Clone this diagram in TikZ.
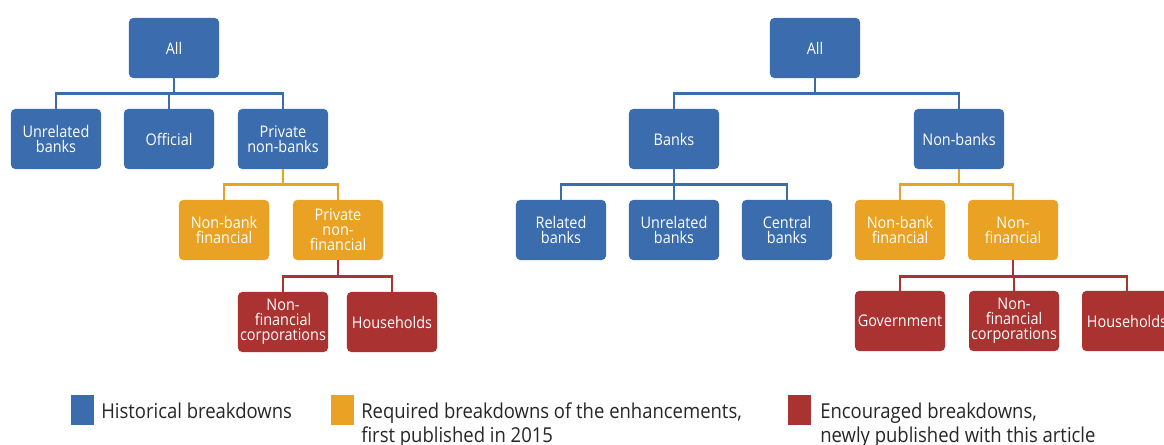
\documentclass[tikz,border=0pt]{standalone}
\usepackage{fontspec}
\setmainfont[FakeStretch=0.9]{Open Sans}
\usetikzlibrary{positioning}
\definecolor{histblue}{RGB}{59,108,173}
\definecolor{reqorange}{RGB}{233,162,35}
\definecolor{encred}{RGB}{170,50,48}

\begin{document}
\begin{tikzpicture}[x=0.025cm, y=-0.025cm,
    box/.style={rounded corners=3pt, minimum width=2.25cm, minimum height=1.5cm, inner sep=1pt,
      align=center, text=white, font=\fontsize{11.4}{10.7}\selectfont},
    hist/.style={box, fill=histblue},
    req/.style={box, fill=reqorange},
    enc/.style={box, fill=encred},
    link/.style={line width=2.1pt},
    legtext/.style={anchor=base west, align=left, inner sep=0pt,
      font=\fontsize{14.6}{17}\selectfont, text=black!85}]
    \clip (0,0) rectangle (1164,445);

    % left tree
    \node[hist] (allL) at (174,48) {All};
    \node[hist] (unrelL) at (56,139) {Unrelated\\banks};
    \node[hist] (offL) at (169,139) {Official};
    \node[hist] (privL) at (283,139) {Private\\non-banks};
    \node[req] (nbfinL) at (224,230) {Non-bank\\financial};
    \node[req] (pnfinL) at (338,230) {Private\\non-\\financial};
    \node[enc] (nfcorpL) at (283,322) {Non-\\financial\\corporations};
    \node[enc] (houseL) at (392,322) {Households};

    \draw[link, histblue] (allL.south) -- ++(0,15) -| (unrelL.north);
    \draw[link, histblue] (allL.south) -- ++(0,15) -| (offL.north);
    \draw[link, histblue] (allL.south) -- ++(0,15) -| (privL.north);
    \draw[link, reqorange] (privL.south) -- ++(0,15) -| (nbfinL.north);
    \draw[link, reqorange] (privL.south) -- ++(0,15) -| (pnfinL.north);
    \draw[link, encred] (pnfinL.south) -- ++(0,16) -| (nfcorpL.north);
    \draw[link, encred] (pnfinL.south) -- ++(0,16) -| (houseL.north);

    % right tree
    \node[hist] (allR) at (815,48) {All};
    \node[hist] (banksR) at (674,139) {Banks};
    \node[hist] (nonbanksR) at (959,139) {Non-banks};
    \node[hist] (relR) at (561,230) {Related\\banks};
    \node[hist] (unrelR) at (674,230) {Unrelated\\banks};
    \node[hist] (centR) at (787,230) {Central\\banks};
    \node[req] (nbfinR) at (900,230) {Non-bank\\financial};
    \node[req] (nfinR) at (1013,230) {Non-\\financial};
    \node[enc] (govR) at (900,321) {Government};
    \node[enc] (nfcorpR) at (1014,321) {Non-\\financial\\corporations};
    \node[enc] (houseR) at (1127,321) {Households};

    \draw[link, histblue] (allR.south) -- ++(0,15) -| (banksR.north);
    \draw[link, histblue] (allR.south) -- ++(0,15) -| (nonbanksR.north);
    \draw[link, histblue] (banksR.south) -- ++(0,15) -| (relR.north);
    \draw[link, histblue] (banksR.south) -- ++(0,15) -| (unrelR.north);
    \draw[link, histblue] (banksR.south) -- ++(0,15) -| (centR.north);
    \draw[link, reqorange] (nonbanksR.south) -- ++(0,15) -| (nbfinR.north);
    \draw[link, reqorange] (nonbanksR.south) -- ++(0,15) -| (nfinR.north);
    \draw[link, encred] (nfinR.south) -- ++(0,16) -| (govR.north);
    \draw[link, encred] (nfinR.south) -- ++(0,16) -| (nfcorpR.north);
    \draw[link, encred] (nfinR.south) -- ++(0,16) -| (houseR.north);

    % legend (two-line texts sit on their last baseline)
    \fill[histblue] (71,395) rectangle (94,425);
    \node[legtext] (legHist) at (101,418) {Historical breakdowns};
    \fill[reqorange] (331,395) rectangle (354,425);
    \node[legtext] (legReq) at (361,442) {Required breakdowns of the enhancements,\\first published in 2015};
    \fill[encred] (788,395) rectangle (811,425);
    \node[legtext] (legEnc) at (820,442) {Encouraged breakdowns,\\newly published with this article};
\end{tikzpicture}
\end{document}
